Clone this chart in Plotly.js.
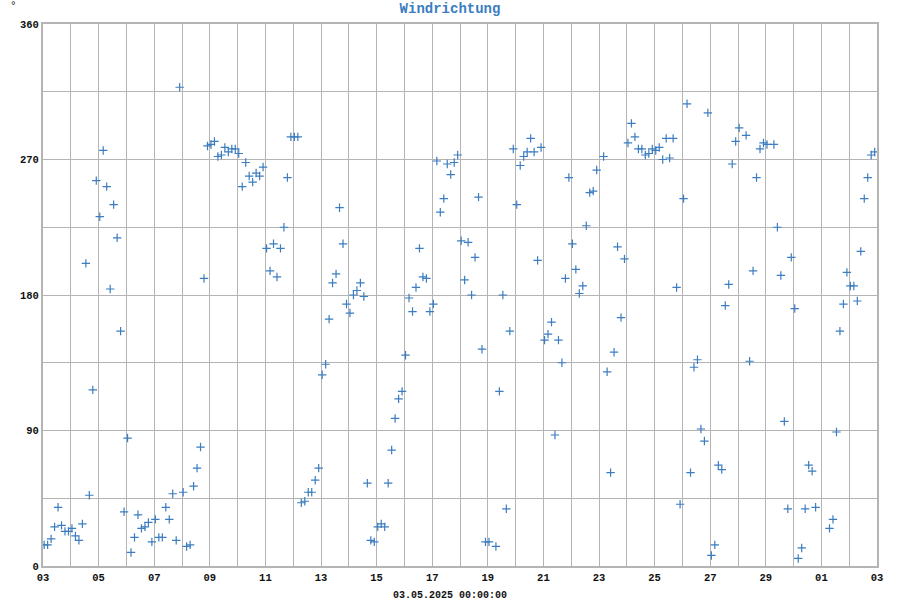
<!DOCTYPE html>
<html>
<head>
<meta charset="utf-8">
<script src="https://cdn.plot.ly/plotly-3.0.1.min.js"></script>
<style>
  html, body { margin: 0; padding: 0; background: #ffffff; }
  #chart { width: 900px; height: 600px; }
</style>
</head>
<body>
<div id="chart"></div>
<script>
// Wind direction (degrees), sampled every 3 hours from 03.04.2025 01:00; null = no reading
const startTime = '2025-04-03 01:00:00';
const stepMs = 3 * 3600 * 1000;
const directionDeg = [
  14, 14, 18, 26, 39, 27, 23, 23, 25, 20, 17, 28, 201, 47, 117, 256, 232, 276, 252, 184,
  240, 218, 156, 36, 85, 9, 19, 34, 25, 26, 29, 16, 31, 19, 19, 39, 31, 48, 17, 318,
  49, 13, 14, 53, 65, 79, 191, 279, 280, 282, 272, 273, 278, 275, 277, 277, 274, 252, 268, 259,
  255, 261, 259, 265, 211, 196, 214, 192, 211, 225, 258, 285, 285, 285, 42, 43, 49, 49, 57, 65,
  127, 134, 164, 188, 194, 238, 214, 174, 168, 180, 183, 188, 179, 55, 17, 16, 26, 28, 26, 55,
  77, 98, 111, 116, 140, 178, 169, 185, 211, 192, 191, 169, 174, 269, 235, 244, 267, 260, 268, 273,
  216, 190, 215, 180, 205, 245, 144, 16, 16, null, 13, 116, 180, 38, 156, 277, 240, 266, 272, 275,
  284, 275, 203, 278, 150, 154, 162, 87, 150, 135, 191, 258, 214, 197, 181, 186, 226, 248, 249, 263,
  null, 272, 129, 62, 142, 212, 165, 204, 281, 294, 285, 277, 277, 273, 274, 277, 276, 278, 270, 284,
  271, 284, 185, 41, 244, 307, 62, 132, 137, 91, 83, 301, 7, 14, 67, 64, 173, 187, 267, 282,
  291, null, 286, 136, 196, 258, 277, 281, 280, null, 280, 225, 193, 96, 38, 205, 171, 5, 12, 38,
  67, 63, 39, null, null, null, 25, 31, 89, 156, 174, 195, 186, 186, 176, 209, 244, 258, 273, 275
];
const xRange = ['2025-04-03 00:00:00', '2025-05-03 00:00:00'];
const yTicks = [0, 90, 180, 270, 360];
const chartTitle = 'Windrichtung';
const xLabel = '03.05.2025 00:00:00';
const yUnit = '°';

const fontFamily = '"Liberation Mono", "Courier New", monospace';
const gridColor = '#b4b4b4';
const blue = '#3b7dc0';

const trace = {
  type: 'scatter',
  mode: 'markers',
  x0: startTime,
  dx: stepMs,
  y: directionDeg,
  marker: {
    symbol: 'cross-thin',
    size: 6,
    color: blue,
    line: { color: blue, width: 1.2 }
  },
  hoverinfo: 'x+y'
};

const layout = {
  width: 900,
  height: 600,
  margin: { l: 43, r: 23, t: 24, b: 34, pad: 0 },
  paper_bgcolor: '#ffffff',
  plot_bgcolor: '#ffffff',
  showlegend: false,
  title: {
    text: '<b>' + chartTitle + '</b>',
    font: { family: fontFamily, size: 14, color: blue },
    x: 0.5, xref: 'container', xanchor: 'center',
    y: 0.987, yref: 'container', yanchor: 'middle'
  },
  xaxis: {
    type: 'date',
    range: xRange,
    tick0: '2025-04-03',
    dtick: 2 * 86400000,
    tickformat: '%d',
    ticks: '',
    showgrid: true,
    gridcolor: gridColor,
    gridwidth: 1,
    minor: { dtick: 86400000, showgrid: true, gridcolor: gridColor, gridwidth: 1, ticks: '' },
    showline: true, mirror: true, linecolor: gridColor, linewidth: 2,
    zeroline: false,
    tickfont: { family: fontFamily, size: 10.5, color: '#111', weight: 'bold' },
    fixedrange: true
  },
  yaxis: {
    range: [0, 360],
    tickvals: yTicks,
    ticktext: yTicks.map(String),
    ticks: '',
    showgrid: true,
    gridcolor: gridColor,
    gridwidth: 1,
    minor: { dtick: 45, tick0: 0, showgrid: true, gridcolor: gridColor, gridwidth: 1, ticks: '' },
    showline: true, mirror: true, linecolor: gridColor, linewidth: 2,
    zeroline: false,
    tickfont: { family: fontFamily, size: 10.5, color: '#111', weight: 'bold' },
    fixedrange: true
  },
  annotations: [
    {
      text: '<b>' + xLabel + '</b>',
      xref: 'paper', yref: 'paper',
      x: (450 - 43) / 834, y: -(595 - 566) / 542,
      xanchor: 'center', yanchor: 'middle',
      showarrow: false,
      font: { family: fontFamily, size: 10, color: '#111' }
    },
    {
      text: yUnit,
      xref: 'paper', yref: 'paper',
      x: (13 - 43) / 834, y: (566 - 6) / 542,
      xanchor: 'center', yanchor: 'middle',
      showarrow: false,
      font: { family: fontFamily, size: 11, color: '#111' }
    }
  ]
};

Plotly.newPlot('chart', [trace], layout, { displayModeBar: false, staticPlot: true });
</script>
</body>
</html>
